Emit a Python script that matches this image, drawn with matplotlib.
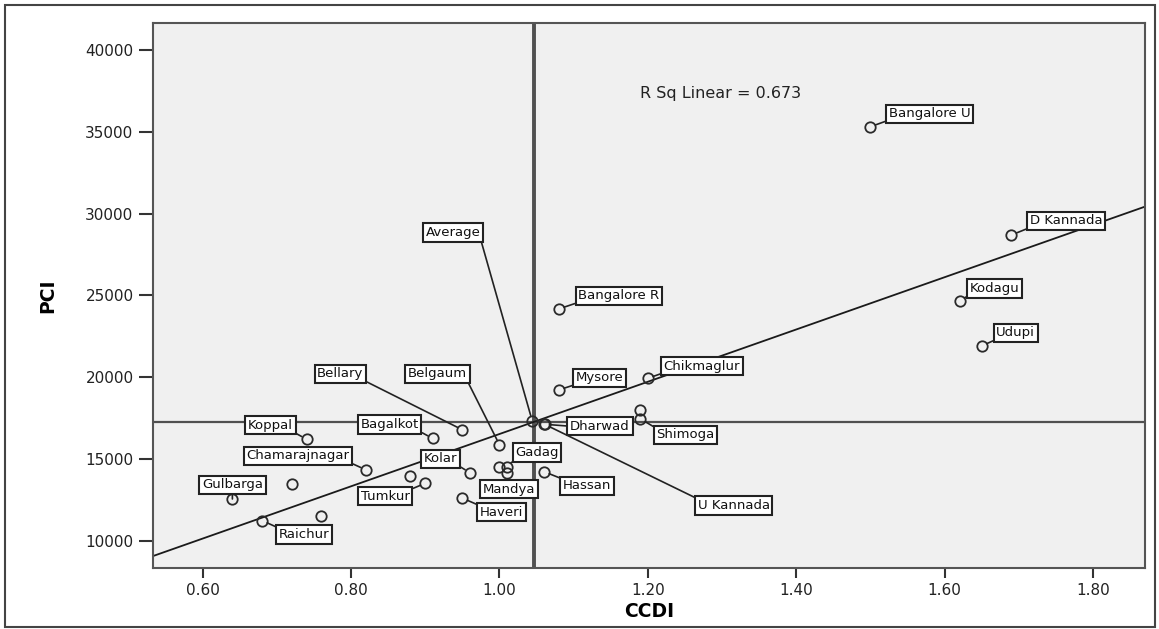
import matplotlib
matplotlib.use("Agg")
import matplotlib.pyplot as plt
from matplotlib.patches import Rectangle
import numpy as np

plt.rcParams["font.family"] = ["DejaVu Sans"]

# district-wise CCDI vs per capita income
districts = ["Koppal", "Bagalkot", "Bellary", "Chamarajnagar", "Gulbarga", "",
             "Raichur", "", "", "Tumkur", "Kolar", "Belgaum", "", "Gadag",
             "Mandya", "Haveri", "Hassan", "Average", "Dharwad", "U Kannada",
             "Shimoga", "", "Mysore", "Chikmaglur", "Bangalore R",
             "Bangalore U", "D Kannada", "Kodagu", "Udupi"]
ccdi = [0.74, 0.91, 0.95, 0.82, 0.64, 0.72,
        0.68, 0.76, 0.88, 0.90, 0.96, 1.00, 1.00, 1.01,
        1.01, 0.95, 1.06, 1.044, 1.06, 1.061,
        1.19, 1.19, 1.08, 1.20, 1.08,
        1.50, 1.69, 1.62, 1.65]
pci = [16200, 16250, 16780, 14330, 12550, 13480,
       11230, 11520, 13980, 13510, 14160, 15860, 14530, 14530,
       14130, 12600, 14220, 17340, 17120, 17110,
       17450, 18000, 19220, 19930, 24170,
       35310, 28690, 24680, 21910]
r_sq_text = "R Sq Linear = 0.673"

x_ticks = [0.60, 0.80, 1.00, 1.20, 1.40, 1.60, 1.80]
y_ticks = [10000, 15000, 20000, 25000, 30000, 35000, 40000]

# label box offsets from each point, in pixels
label_offsets = {
    "Koppal": (-36, 14), "Bagalkot": (-43, 14), "Bellary": (-122, 56),
    "Chamarajnagar": (-68, 14), "Gulbarga": (0, 14), "Raichur": (42, -14),
    "Tumkur": (-40, -13), "Kolar": (-29, 14), "Belgaum": (-62, 71),
    "Gadag": (30, 14), "Mandya": (2, -16), "Haveri": (39, -14),
    "Hassan": (43, -14), "Average": (-79, 188), "Dharwad": (56, -2),
    "U Kannada": (189, -81), "Shimoga": (45, -16), "Mysore": (41, 12),
    "Chikmaglur": (54, 12), "Bangalore R": (60, 13), "Bangalore U": (59, 13),
    "D Kannada": (55, 14), "Kodagu": (35, 12), "Udupi": (34, 13),
}

x = np.array(ccdi)
y = np.array(pci)
slope, intercept = np.polyfit(x, y, 1)

fig = plt.figure(figsize=(11.59, 6.29), dpi=100)
ax = fig.add_axes([153 / 1159, 1 - 568 / 629, 992 / 1159, 545 / 629])
ax.set_facecolor("#f0f0f0")

xlim = (0.533, 1.87)
ylim = (8330, 41650)
ax.set_xlim(xlim)
ax.set_ylim(ylim)

# mean reference lines
ax.axvline(x.mean(), color="#505050", lw=2.8, zorder=1)
ax.axhline(y.mean(), color="#505050", lw=1.6, zorder=1)

# fit line
xs = np.array(xlim)
ax.plot(xs, intercept + slope * xs, color="#1a1a1a", lw=1.3, zorder=2)

ax.plot(x, y, "o", ms=7.5, mfc="none", mec="#2a2a2a", mew=1.3, zorder=3)

for name, xi, yi in zip(districts, ccdi, pci):
    if not name:
        continue
    dx, dy = label_offsets[name]
    # leader starts from the box corner nearest the point
    rx = 0.5 if abs(dx) < 10 else (0.0 if dx > 0 else 1.0)
    ry = 0.5 if abs(dy) < 5 else (0.0 if dy > 0 else 1.0)
    ax.annotate(name, (xi, yi), xytext=(dx, dy), textcoords="offset pixels",
                ha="center", va="center", fontsize=9.5, color="#111",
                bbox=dict(boxstyle="square,pad=0.2", fc="white", ec="#222", lw=1.5),
                arrowprops=dict(arrowstyle="-", color="#222", lw=1.2,
                                relpos=(rx, ry), shrinkA=0, shrinkB=4),
                zorder=4)

ax.text(1.189, 37310, r_sq_text, fontsize=11.5, color="#222", va="center")

ax.set_xticks(x_ticks)
ax.set_xticklabels([f"{t:.2f}" for t in x_ticks])
ax.set_yticks(y_ticks)
ax.set_yticklabels([str(t) for t in y_ticks])
ax.tick_params(axis="y", length=10, width=1.5, color="#333", labelsize=11,
               labelcolor="#222", pad=4)
ax.tick_params(axis="x", length=7, width=1.5, color="#333", labelsize=11,
               labelcolor="#222", pad=4)
for s in ax.spines.values():
    s.set_color("#555")
    s.set_linewidth(1.5)

ax.set_xlabel("CCDI", fontsize=13.5, fontweight="bold", labelpad=3)
ax.set_ylabel("PCI", fontsize=13.5, fontweight="bold", labelpad=20)

# outer frame around the chart
fig.patches.append(Rectangle((5 / 1159, 2 / 629), 1150 / 1159, 622 / 629,
                             transform=fig.transFigure, fill=False,
                             ec="#444", lw=1.5))

fig.savefig("out.png", dpi=100)
